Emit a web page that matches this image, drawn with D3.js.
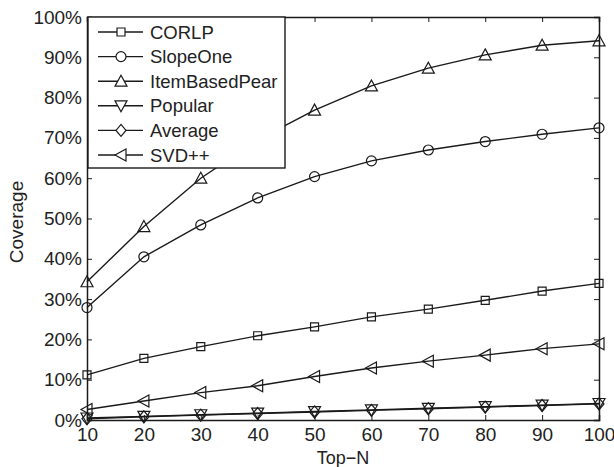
<!DOCTYPE html>
<html>
<head>
<meta charset="utf-8">
<script src="https://cdn.jsdelivr.net/npm/d3@7"></script>
<style>
body { margin: 0; background: #fff; }
text { font-family: "Liberation Sans", Arial, sans-serif; fill: #222; }
</style>
</head>
<body>
<svg id="chart" width="614" height="467"></svg>
<script>
var topN = [10, 20, 30, 40, 50, 60, 70, 80, 90, 100];
var corlp = [11.2, 15.3, 18.2, 20.9, 23.1, 25.6, 27.5, 29.7, 32.0, 33.9];
var slopeOne = [27.9, 40.5, 48.4, 55.1, 60.4, 64.3, 67.0, 69.1, 70.9, 72.5];
var itemBasedPear = [34.3, 48.0, 60.0, 69.5, 76.9, 82.9, 87.3, 90.6, 93.0, 94.1];
var popular = [0.5, 0.9, 1.3, 1.7, 2.1, 2.5, 2.9, 3.3, 3.7, 4.1];
var average = [0.3, 0.8, 1.2, 1.6, 2.0, 2.4, 2.8, 3.2, 3.6, 4.0];
var svdpp = [2.6, 4.7, 6.8, 8.5, 10.8, 12.9, 14.6, 16.1, 17.7, 18.9];
var yTicks = [0, 10, 20, 30, 40, 50, 60, 70, 80, 90, 100];

var series = [
    {name: "CORLP", values: corlp, marker: "square"},
    {name: "SlopeOne", values: slopeOne, marker: "circle"},
    {name: "ItemBasedPear", values: itemBasedPear, marker: "up"},
    {name: "Popular", values: popular, marker: "down"},
    {name: "Average", values: average, marker: "diamond"},
    {name: "SVD++", values: svdpp, marker: "left"}
];

var plotL = 87, plotR = 599, plotT = 17, plotB = 420;
var x = d3.scaleLinear().domain([10, 100]).range([plotL, plotR]);
var y = d3.scaleLinear().domain([0, 100]).range([plotB, plotT]);

var svg = d3.select("#chart");

function markerPath(type){
    switch(type){
        case "square": return "M-4,-4h8v8h-8z";
        case "circle": return "M-5,0a5,5 0 1,0 10,0a5,5 0 1,0 -10,0";
        case "up": return "M0,-6L6,5L-6,5Z";
        case "down": return "M0,6L6,-5L-6,-5Z";
        case "diamond": return "M0,-6L5,0L0,6L-5,0Z";
        case "left": return "M-6,0L5,-6L5,6Z";
    }
}

// axes, ticks inside on all four sides
var yAxis = d3.axisLeft(y).tickValues(yTicks).tickSize(-5).tickPadding(5)
                .tickFormat(function(d){ return d + "%"; });
var xAxis = d3.axisBottom(x).tickValues(topN).tickSize(-5).tickPadding(8);

svg.append("g").attr("transform", "translate(" + plotL + ",0)").call(yAxis);
svg.append("g").attr("transform", "translate(0," + plotB + ")").call(xAxis);
svg.append("g").attr("transform", "translate(" + plotR + ",0)")
    .call(d3.axisRight(y).tickValues(yTicks).tickSize(-5).tickFormat(""));
svg.append("g").attr("transform", "translate(0," + plotT + ")")
    .call(d3.axisTop(x).tickValues(topN).tickSize(-5).tickFormat(""));

svg.selectAll(".domain").attr("stroke", "#1a1a1a").attr("stroke-width", 1.5);
svg.selectAll(".tick line").attr("stroke", "#1a1a1a");
svg.selectAll(".tick text").attr("font-size", 19)
    .attr("font-family", "'Liberation Sans', Arial, sans-serif").attr("fill", "#222");

svg.append("text").attr("x", (plotL + plotR) / 2).attr("y", 464)
    .attr("text-anchor", "middle").style("font-size", "18px").text("Top\u2212N");
svg.append("text").attr("transform", "translate(23,222) rotate(-90)")
    .attr("text-anchor", "middle").style("font-size", "19px").text("Coverage");

var line = d3.line().x(function(d, i){ return x(topN[i]); }).y(function(d){ return y(d); });

series.forEach(function(s){
    var g = svg.append("g");
    g.append("path").datum(s.values).attr("d", line)
        .attr("fill", "none").attr("stroke", "#1a1a1a").attr("stroke-width", 1.4);
    g.selectAll("path.mk").data(s.values).enter().append("path")
        .attr("class", "mk")
        .attr("transform", function(d, i){ return "translate(" + x(topN[i]) + "," + y(d) + ")"; })
        .attr("d", markerPath(s.marker))
        .attr("fill", "none").attr("stroke", "#1a1a1a").attr("stroke-width", 1.2);
});

// legend
var legend = svg.append("g");
legend.append("rect").attr("x", 88).attr("y", 17).attr("width", 197).attr("height", 151)
    .attr("fill", "#fff").attr("stroke", "#1a1a1a").attr("stroke-width", 1.4);
series.forEach(function(s, i){
    var ly = 32 + i * 24.6;
    legend.append("line").attr("x1", 98).attr("x2", 143).attr("y1", ly).attr("y2", ly)
        .attr("stroke", "#1a1a1a").attr("stroke-width", 1.4);
    legend.append("path").attr("transform", "translate(121," + ly + ")")
        .attr("d", markerPath(s.marker)).attr("fill", "#fff")
        .attr("stroke", "#1a1a1a").attr("stroke-width", 1.2);
    legend.append("text").attr("x", 150).attr("y", ly + 6.5)
        .style("font-size", "18.5px").text(s.name);
});
</script>
</body>
</html>
